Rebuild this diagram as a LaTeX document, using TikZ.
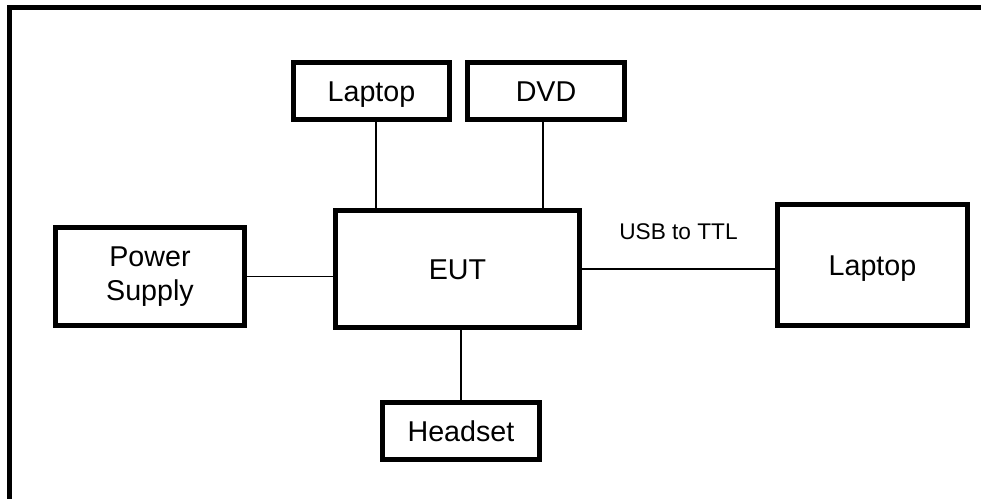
\documentclass[tikz,border=0pt]{standalone}
\usepackage{fontspec}
\setmainfont{Liberation Sans}
\usetikzlibrary{positioning}

\begin{document}
\begin{tikzpicture}[x=0.75pt,y=-0.75pt,node distance=68.25pt]
  \tikzset{unit/.style = {rectangle, draw, line width=3.75pt, outer sep=0pt, align=center, font=\fontsize{21.5}{26}\selectfont}, }
  \tikzset{oneline/.style = {unit, text height=15.4pt, text depth=0pt}, }
  \tikzset{small/.style = {oneline, minimum width=117.5pt, minimum height=42.75pt}, }
  \tikzset{link/.style = {line width=1.3pt} }
  \useasboundingbox (0,0) rectangle (981,499);
  \clip (0,0) rectangle (981,499);
  % outer frame
  \draw[line width=3.75pt] (9.8,7.2) rectangle (1010,530);

  \node[oneline, minimum width=183pt, minimum height=87.75pt] (EUT) at (457.5,269) {EUT};
  \node[small, above=of EUT, xshift=-64.5pt] (Laptop1) {Laptop};
  \node[small, above=of EUT, xshift=66.4pt] (DVD) {DVD};
  \node[small, below=56.25pt of EUT, xshift=2.6pt] (Headset) {Headset};
  \node[unit, minimum width=141.75pt, minimum height=73.5pt, left=of EUT, yshift=-5.6pt] (PSU) {Power\\Supply};
  \node[oneline, minimum width=142.5pt, minimum height=90.75pt, right=148.5pt of EUT, yshift=3pt] (Laptop2) {Laptop};

  % cables
  \draw[link] ([xshift=3.4pt]Laptop1.south) -- ([xshift=3.4pt]Laptop1.south |- EUT.north);
  \draw[link] ([xshift=-2.25pt]DVD.south) -- ([xshift=-2.25pt]DVD.south |- EUT.north);
  \draw[link] (Headset.north) -- (Headset.north |- EUT.south);
  \draw[link] (PSU.east) -- (PSU.east -| EUT.west);
  \draw[link] (EUT.east) -- (EUT.east -| Laptop2.west)
    node[midway, above=18.2pt, font=\fontsize{17}{20}\selectfont] {USB to TTL};
\end{tikzpicture}
\end{document}
